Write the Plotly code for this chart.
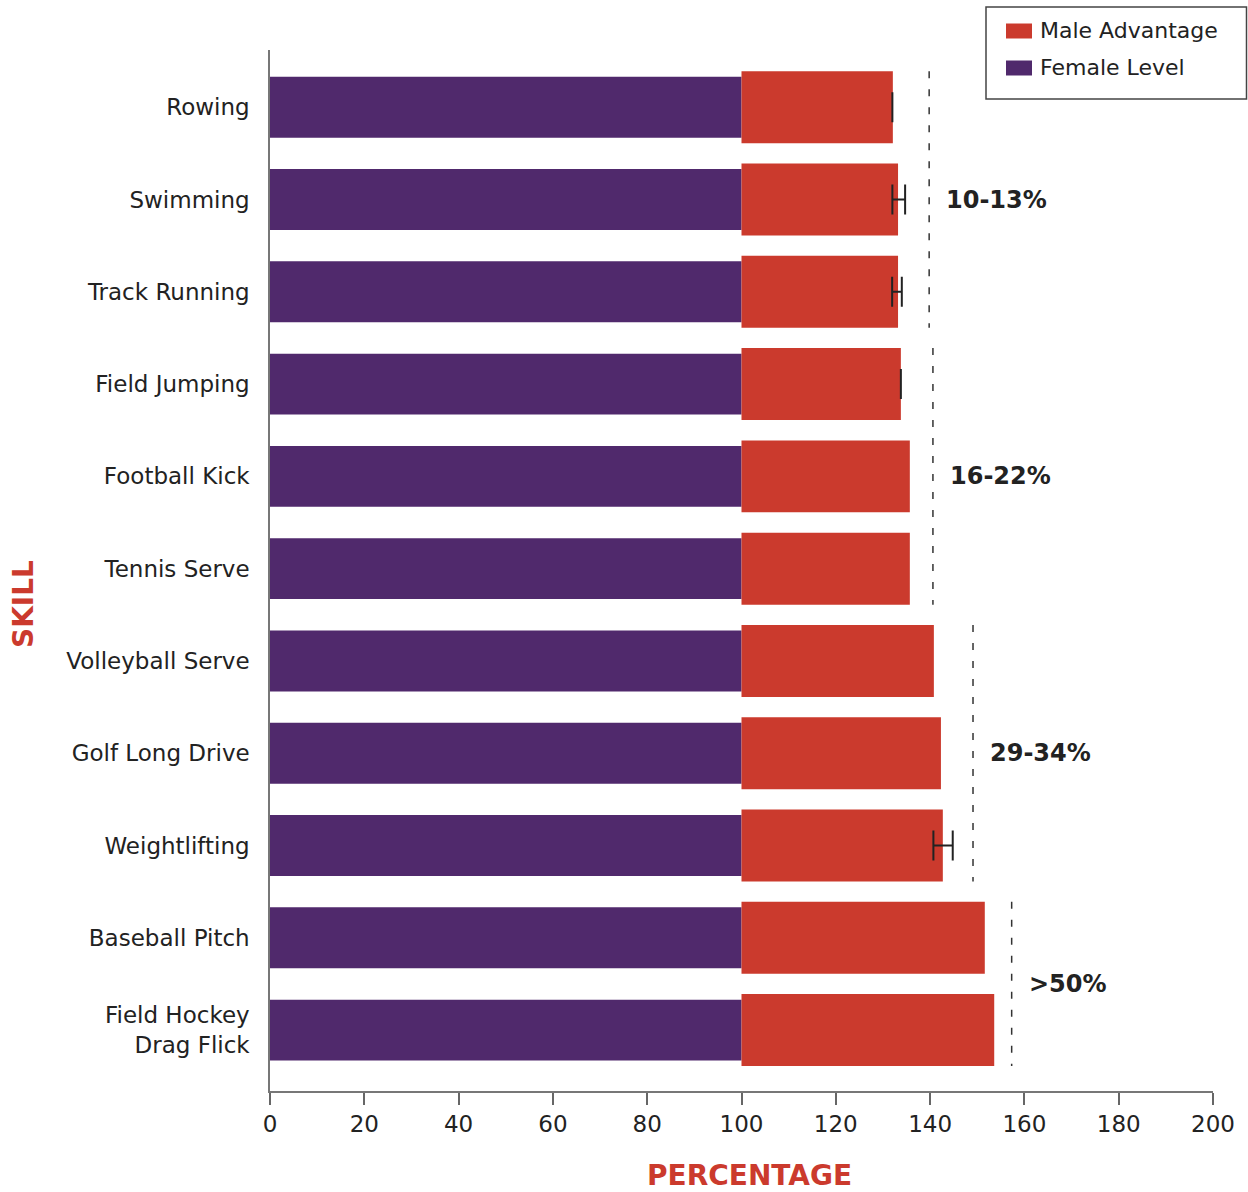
import plotly.graph_objects as go

# ---- data ----
skills = ["Rowing", "Swimming", "Track Running", "Field Jumping", "Football Kick",
          "Tennis Serve", "Volleyball Serve", "Golf Long Drive", "Weightlifting",
          "Baseball Pitch", "Field Hockey<br>Drag Flick"]
female_level = [100] * 11
male_level = [132.1, 133.2, 133.2, 133.8, 135.7, 135.7, 140.8, 142.3, 142.7, 151.6, 153.6]
err_low = [132.0, 132.0, 131.95, 133.8, None, None, None, None, 140.7, None, None]
err_high = [132.0, 134.7, 134.0, 133.8, None, None, None, None, 144.8, None, None]

group_labels = ["10-13%", "16-22%", "29-34%", ">50%"]
group_line_x = [139.8, 140.6, 149.1, 157.3]
group_first = ["Rowing", "Field Jumping", "Volleyball Serve", "Baseball Pitch"]
group_last = ["Track Running", "Tennis Serve", "Weightlifting", "Field Hockey<br>Drag Flick"]
group_label_row = ["Swimming", "Football Kick", "Golf Long Drive", None]

x_ticks = [0, 20, 40, 60, 80, 100, 120, 140, 160, 180, 200]
legend_names = ["Male Advantage", "Female Level"]

RED = "#CB3A2D"
PURPLE = "#50296C"
FONT = "DejaVu Sans"
TXT = "#222222"

FIG_W, FIG_H = 1248, 1192
# plot area in pixels
L, R, T, B = 270, 1213, 50, 1091
W_PX, H_PX = R - L, B - T


def px_x(p):
    return (p - L) / W_PX


def px_y(p):
    return (B - p) / H_PX


fig = go.Figure()
fig.add_trace(go.Bar(
    y=skills, x=female_level, base=0, orientation="h", width=0.66,
    marker=dict(color=PURPLE, line=dict(width=0)), name=legend_names[1], showlegend=False,
))
fig.add_trace(go.Bar(
    y=skills, x=[m - f for m, f in zip(male_level, female_level)], base=female_level,
    orientation="h", width=0.78,
    marker=dict(color=RED, line=dict(width=0)), name=legend_names[0], showlegend=False,
))

ex, ey, eh = [], [], []
for s, lo, hi in zip(skills, err_low, err_high):
    if lo is not None:
        ex.append((lo + hi) / 2)
        ey.append(s)
        eh.append((hi - lo) / 2)
fig.add_trace(go.Scatter(
    x=ex, y=ey, mode="markers", marker=dict(size=1, color="rgba(0,0,0,0)"),
    error_x=dict(type="data", array=eh, symmetric=True, color="#222222", thickness=2, width=15),
    showlegend=False, hoverinfo="skip",
))

idx = {s: i for i, s in enumerate(skills)}
for lab, gx, a, b, r in zip(group_labels, group_line_x, group_first, group_last, group_label_row):
    y0 = idx[a] - 0.39
    y1 = idx[b] + 0.39
    fig.add_shape(type="line", xref="x", yref="y", x0=gx, x1=gx, y0=y0, y1=y1,
                  line=dict(color="#333333", width=1.5, dash="7px,11px"))
    ly = idx[r] if r is not None else (idx[a] + idx[b]) / 2
    fig.add_annotation(x=gx, y=ly, xref="x", yref="y", text="<b>%s</b>" % lab,
                       showarrow=False, xanchor="left", xshift=15,
                       font=dict(family=FONT, size=24, color=TXT))

# axis titles
fig.add_annotation(text="<b>SKILL</b>", xref="paper", yref="paper", x=px_x(23), y=px_y(604),
                   textangle=-90, showarrow=False, font=dict(family=FONT, size=28, color=RED),
                   xanchor="center", yanchor="middle")
fig.add_annotation(text="<b>PERCENTAGE</b>", xref="paper", yref="paper", x=px_x(749), y=px_y(1175),
                   showarrow=False, font=dict(family=FONT, size=28, color=RED),
                   xanchor="center", yanchor="middle")

# custom legend
fig.add_shape(type="rect", xref="paper", yref="paper", x0=px_x(986), x1=px_x(1246.5),
              y0=px_y(99), y1=px_y(7), line=dict(color="#444444", width=1.5), fillcolor="white")
for name, col, cy in zip(legend_names, [RED, PURPLE], [31, 68]):
    fig.add_shape(type="rect", xref="paper", yref="paper", x0=px_x(1006), x1=px_x(1032),
                  y0=px_y(cy + 7.5), y1=px_y(cy - 7.5), line=dict(width=0), fillcolor=col)
    fig.add_annotation(text=name, xref="paper", yref="paper", x=px_x(1038), y=px_y(cy),
                       xanchor="left", yanchor="middle", showarrow=False,
                       font=dict(family=FONT, size=22, color=TXT))

fig.update_layout(
    width=FIG_W, height=FIG_H,
    margin=dict(l=L, r=FIG_W - R, t=T, b=FIG_H - B, autoexpand=False),
    paper_bgcolor="white", plot_bgcolor="white",
    barmode="overlay",
    font=dict(family=FONT, size=23, color=TXT),
    showlegend=False,
    xaxis=dict(range=[0, 200], tickvals=x_ticks, ticks="outside", ticklen=12, tickwidth=1.5,
               tickcolor="#666666", showline=True, linecolor="#777777", linewidth=1.5,
               showgrid=False, zeroline=False,
               tickfont=dict(family=FONT, size=23, color=TXT)),
    yaxis=dict(type="category", categoryorder="array", categoryarray=skills,
               range=[10.66, -0.62], showline=True, linecolor="#777777", linewidth=1.5,
               ticks="", showgrid=False, zeroline=False, ticklabelstandoff=14,
               tickfont=dict(family=FONT, size=23, color=TXT)),
)

fig.write_html("out.html", config={"displayModeBar": False},
               post_script="document.body.style.margin='0';document.body.style.overflow='hidden';")
